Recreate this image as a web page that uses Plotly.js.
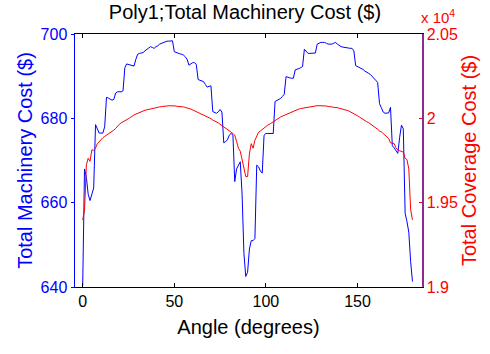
<!DOCTYPE html>
<html>
<head>
<meta charset="utf-8">
<script src="https://cdn.plot.ly/plotly-3.0.1.min.js"></script>
<style>html,body{margin:0;padding:0;background:#fff;}#chart{width:490px;height:354px;}</style>
</head>
<body>
<div id="chart"></div>
<script>
const chartTitle = "Poly1;Total Machinery Cost ($)";
const xTitle = "Angle (degrees)";
const yLeftTitle = "Total Machinery Cost ($)";
const yRightTitle = "Total Coverage Cost ($)";

const angles = [0,1,2,3,4,5,6,7,8,9,10,11,12,13,14,15,16,17,18,19,20,21,22,23,24,25,26,27,28,29,
30,31,32,33,34,35,36,37,38,39,40,41,42,43,44,45,46,47,48,49,50,51,52,53,54,55,56,57,58,59,
60,61,62,63,64,65,66,67,68,69,70,71,72,73,74,75,76,77,78,79,80,81,82,83,84,85,86,87,88,89,
90,91,92,93,94,95,96,97,98,99,100,101,102,103,104,105,106,107,108,109,110,111,112,113,114,115,116,117,118,119,
120,121,122,123,124,125,126,127,128,129,130,131,132,133,134,135,136,137,138,139,140,141,142,143,144,145,146,147,148,149,
150,151,152,153,154,155,156,157,158,159,160,161,162,163,164,165,166,167,168,169,170,171,172,173,174,175,176,177,178,179,180];

const machineryCost = [
640.3, 668, 666, 662, 660.5, 662, 663.5, 678.5, 677.5, 676.5,
676.5, 676.5, 678, 685, 684.8, 684.5, 684.3, 684.5, 686, 686.3,
686.3, 686.3, 686.5, 692, 692.9, 692.8, 692.7, 692.6, 692.4, 694,
695.2, 695.4, 695.5, 695.6, 696, 696.4, 696.8, 697, 696.8, 696.6,
697, 697.2, 697.6, 697.8, 698, 698.2, 698.3, 698.3, 698.4, 698.4,
695.8, 695.6, 695.4, 695.3, 695.2, 695, 694.6, 694, 692.6, 693,
693.2, 693.2, 692.8, 689.2, 689, 688.8, 688.7, 688, 687.4, 687.6,
687.7, 681.6, 681.4, 681.2, 681.5, 682.1, 681.5, 674.2, 674.5, 674.9,
676, 676.4, 676, 665, 668, 669, 669.7, 662, 648, 642.5,
643.5, 649, 651, 651, 651.5, 668.9, 668.5, 667.5, 667, 676,
676.4, 676.4, 676.4, 676.4, 676.4, 684, 684.2, 684.4, 684.7, 685.2,
685.7, 689.9, 689.7, 689.6, 689.5, 689.5, 691.5, 691.6, 691.8, 692,
692.3, 696.4, 695.8, 695.4, 695.4, 695.4, 695.4, 695.5, 697.6, 697.8,
698, 698, 698, 697.8, 697.6, 697.6, 697.6, 697.8, 698, 697.6,
697.2, 697, 696.9, 696.8, 696.8, 696.7, 696.6, 696.6, 696, 692.5,
692.3, 692.1, 691.9, 691.6, 691.2, 691, 690.7, 690.4, 690, 689.5,
689, 688.5, 683.5, 682.5, 681.5, 681.2, 681.2, 681.3, 682.6, 673.5,
673, 672.3, 671.7, 675.5, 678.4, 677.5, 657.5, 655.5, 653, 646,
641.3];

const coverageCost = [
19398, 19455, 19725, 19763, 19745, 19813, 19810, 19823, 19850, 19863,
19878, 19885, 19893, 19900, 19905, 19915, 19923, 19930, 19940, 19955,
19965, 19973, 19978, 19985, 19990, 19998, 20005, 20015, 20020, 20025,
20030, 20035, 20040, 20043, 20048, 20050, 20053, 20055, 20060, 20060,
20063, 20065, 20068, 20070, 20070, 20073, 20073, 20075, 20075, 20073,
20073, 20073, 20070, 20070, 20068, 20068, 20065, 20060, 20058, 20055,
20050, 20045, 20040, 20033, 20028, 20023, 20018, 20013, 20008, 20003,
19998, 19990, 19985, 19978, 19973, 19965, 19958, 19950, 19940, 19933,
19925, 19918, 19910, 19900, 19863, 19823, 19805, 19750, 19708, 19655,
19655, 19790, 19850, 19823, 19870, 19900, 19918, 19925, 19935, 19943,
19950, 19960, 19965, 19973, 19978, 19985, 19993, 20000, 20008, 20013,
20018, 20025, 20030, 20035, 20038, 20043, 20045, 20050, 20055, 20058,
20060, 20063, 20065, 20068, 20070, 20070, 20073, 20073, 20075, 20075,
20075, 20075, 20073, 20073, 20070, 20070, 20068, 20065, 20065, 20063,
20060, 20058, 20055, 20050, 20048, 20045, 20040, 20035, 20028, 20020,
20015, 20008, 20000, 19993, 19988, 19980, 19975, 19968, 19960, 19950,
19943, 19935, 19925, 19920, 19910, 19900, 19893, 19880, 19855, 19853,
19850, 19825, 19813, 19808, 19805, 19800, 19763, 19755, 19700, 19460,
19398];

const xTicks = [0, 50, 100, 150];
const yLeftTicks = [640, 660, 680, 700];
const yRightTicks = [19000, 19500, 20000, 20500];
const yRightTickText = ["1.9", "1.95", "2", "2.05"];

const FONT = "Liberation Sans, Arial, Helvetica, sans-serif";
const BLUE = "#0000FF", RED = "#FF0000", PURPLE = "#8E2A8E";

const traces = [
  {x: angles, y: machineryCost, type: "scatter", mode: "lines",
   line: {color: BLUE, width: 1}, yaxis: "y", hoverinfo: "skip"},
  {x: angles, y: coverageCost, type: "scatter", mode: "lines",
   line: {color: RED, width: 1}, yaxis: "y2", hoverinfo: "skip"}
];

const layout = {
  width: 490, height: 354,
  margin: {l: 75, r: 68, t: 34, b: 67, pad: 0},
  paper_bgcolor: "#fff", plot_bgcolor: "#fff",
  showlegend: false,
  font: {family: FONT, size: 16, color: "#000"},
  title: {text: chartTitle, font: {family: FONT, size: 20, color: "#000"},
          x: 0.5, xanchor: "center", y: 0.965, yanchor: "middle", yref: "container"},
  xaxis: {
    range: [-4.2, 185.2], tickvals: xTicks, ticks: "inside", ticklen: 4, tickwidth: 1,
    tickcolor: "#000", showline: true, linecolor: "#000", linewidth: 1, mirror: "ticks",
    showgrid: false, zeroline: false, tickfont: {family: FONT, size: 16, color: "#000"},
    title: {text: xTitle, font: {family: FONT, size: 20, color: "#000"}, standoff: 10}
  },
  yaxis: {
    range: [640, 700], tickvals: yLeftTicks, ticks: "outside", ticklen: 3, tickwidth: 1,
    tickcolor: BLUE, showline: true, linecolor: BLUE, linewidth: 1.5,
    showgrid: false, zeroline: false, tickfont: {family: FONT, size: 16, color: BLUE},
    title: {text: yLeftTitle, font: {family: FONT, size: 20, color: BLUE}, standoff: 2}
  },
  yaxis2: {
    range: [19000, 20500], tickvals: yRightTicks, ticktext: yRightTickText,
    overlaying: "y", side: "right", ticks: "inside", ticklen: 3, tickwidth: 1,
    tickcolor: RED, showline: true, linecolor: PURPLE, linewidth: 1.5,
    showgrid: false, zeroline: false, tickfont: {family: FONT, size: 16, color: RED},
    title: {text: yRightTitle, font: {family: FONT, size: 20, color: RED}, standoff: 4}
  },
  annotations: [{
    text: "x 10<sup>4</sup>", xref: "paper", yref: "paper", x: 1, y: 1,
    xanchor: "left", yanchor: "bottom", xshift: -3, yshift: 6, showarrow: false,
    font: {family: FONT, size: 15, color: RED}
  }]
};

Plotly.newPlot("chart", traces, layout, {staticPlot: true, displayModeBar: false});
</script>
</body>
</html>
